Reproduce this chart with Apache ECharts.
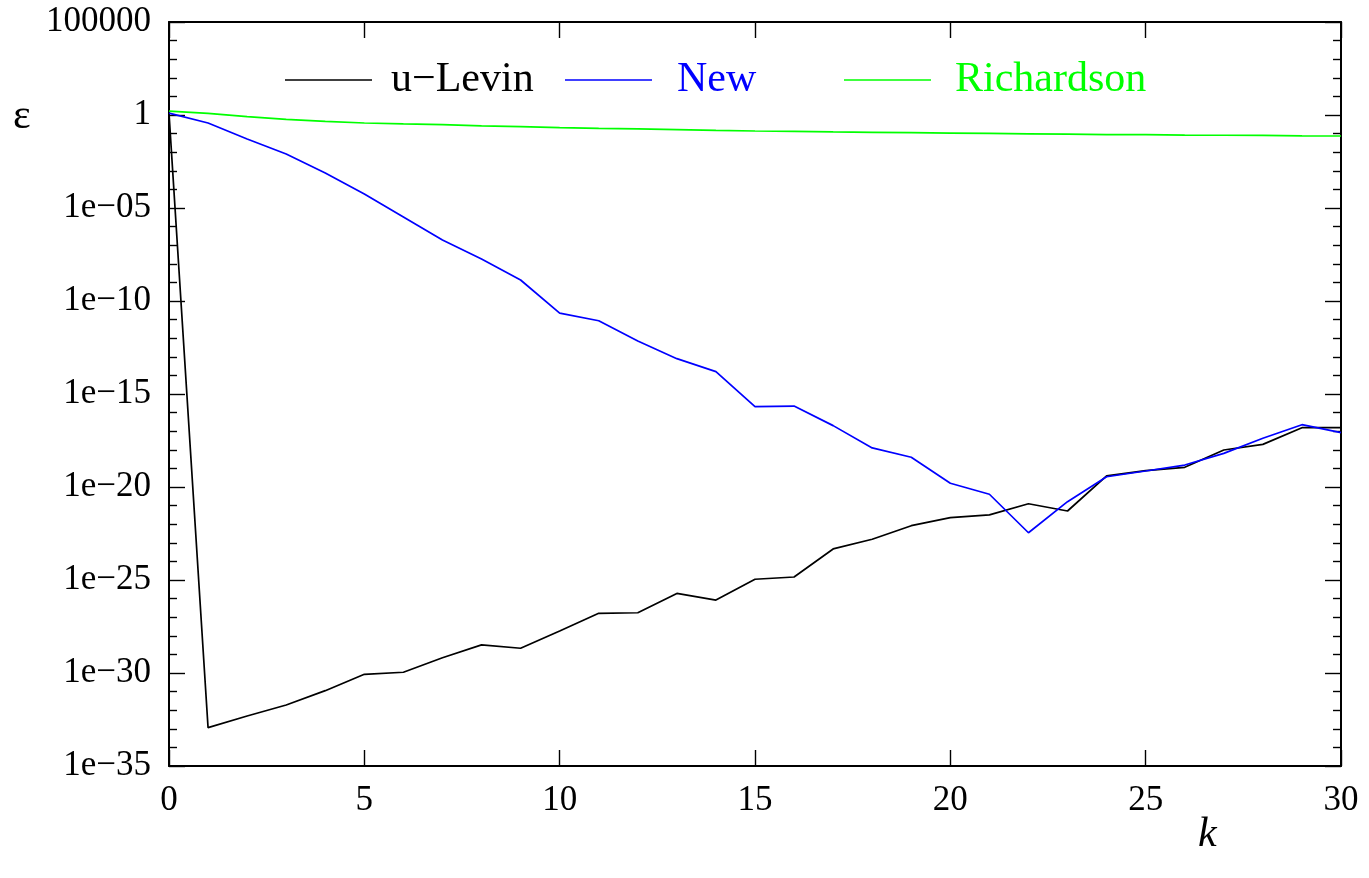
<!DOCTYPE html>
<html>
<head>
<meta charset="utf-8">
<title>u-Levin vs New vs Richardson</title>
<script src="https://cdn.jsdelivr.net/npm/echarts@6/dist/echarts.min.js"></script>
<style>
  html, body { margin: 0; padding: 0; background: #fff; }
  #chart { width: 1369px; height: 878px; }
</style>
</head>
<body>
<div id="chart"></div>
<script>
// k = 0..30
const kValues = [0, 1, 2, 3, 4, 5, 6, 7, 8, 9, 10, 11, 12, 13, 14, 15, 16, 17, 18, 19, 20, 21, 22, 23, 24, 25, 26, 27, 28, 29, 30]

// log10(eps)
const uLevinLog = [0.1, -32.94, -32.31, -31.72, -30.95, -30.07, -29.96, -29.18, -28.49, -28.67, -27.74, -26.79, -26.76, -25.72, -26.08, -24.96, -24.84, -23.33, -22.81, -22.08, -21.65, -21.5, -20.9, -21.29, -19.4, -19.12, -18.94, -18.01, -17.71, -16.81, -16.81]
const newLog = [0.1, -0.43, -1.29, -2.1, -3.12, -4.25, -5.48, -6.72, -7.74, -8.87, -10.65, -11.06, -12.15, -13.1, -13.8, -15.68, -15.65, -16.7, -17.9, -18.4, -19.8, -20.39, -22.46, -20.79, -19.45, -19.14, -18.82, -18.19, -17.38, -16.65, -17.08]
const richardsonLog = [0.21, 0.09, -0.09, -0.23, -0.34, -0.43, -0.48, -0.52, -0.58, -0.63, -0.68, -0.72, -0.75, -0.79, -0.83, -0.86, -0.88, -0.91, -0.93, -0.95, -0.97, -0.99, -1.01, -1.03, -1.05, -1.06, -1.08, -1.09, -1.1, -1.12, -1.13]

// y tick positions (log10) and their labels
const yTicks = [-35, -30, -25, -20, -15, -10, -5, 0, 5]
const yTickLabels = ['1e\u221235', '1e\u221230', '1e\u221225', '1e\u221220', '1e\u221215', '1e\u221210', '1e\u221205', '1', '100000']

const seriesNames = ['u\u2212Levin', 'New', 'Richardson']
const seriesColors = ['#000000', '#0000ff', '#00ff00']

const FONT = "'Liberation Serif', 'Times New Roman', serif"

const chart = echarts.init(document.getElementById('chart'))

const toPairs = arr => arr.map((v, i) => [kValues[i], v])

const xBase = {
  type: 'value',
  min: 0,
  max: 30,
  interval: 5,
  splitLine: { show: false },
  axisLine: { show: true, onZero: false, lineStyle: { color: '#000', width: 2 } },
  axisTick: { show: true, inside: true, length: 16, lineStyle: { color: '#000', width: 1.4 } }
}

const yBase = {
  type: 'value',
  min: -35,
  max: 5,
  interval: 5,
  splitLine: { show: false },
  axisLine: { show: true, onZero: false, lineStyle: { color: '#000', width: 2 } },
  axisTick: { show: true, inside: true, length: 16, lineStyle: { color: '#000', width: 1.4 } },
  minorTick: { show: true, splitNumber: 5, length: 8, lineStyle: { color: '#000', width: 1.4 } },
  minorSplitLine: { show: false }
}

const legendLeft = [280, 560, 839]
const legendTextPad = [14, 20, 19]

chart.setOption({
  backgroundColor: '#fff',
  animation: false,
  grid: { left: 169, right: 28, top: 22, bottom: 112, containLabel: false },
  legend: seriesNames.map((name, i) => ({
    data: [name],
    left: legendLeft[i],
    top: 54,
    icon: 'rect',
    itemWidth: 87,
    itemHeight: 1.6,
    selectedMode: false,
    textStyle: {
      fontFamily: FONT,
      fontSize: 42,
      color: i === 0 ? '#000' : seriesColors[i],
      padding: [0, 0, 0, legendTextPad[i]]
    }
  })),
  xAxis: [
    Object.assign({}, xBase, {
      position: 'bottom',
      axisLabel: { show: true, margin: 17, fontFamily: FONT, fontSize: 35, color: '#000' }
    }),
    Object.assign({}, xBase, {
      position: 'top',
      axisLabel: { show: false }
    })
  ],
  yAxis: [
    Object.assign({}, yBase, {
      position: 'left',
      axisLabel: {
        show: true,
        margin: 18,
        fontFamily: FONT,
        fontSize: 35,
        color: '#000',
        formatter: v => yTickLabels[yTicks.indexOf(v)]
      }
    }),
    Object.assign({}, yBase, {
      position: 'right',
      axisLabel: { show: false }
    })
  ],
  graphic: [
    {
      type: 'text',
      left: 13,
      top: 96,
      style: { text: '\u03b5', font: '42px ' + FONT, fill: '#000' }
    },
    {
      type: 'text',
      left: 1198,
      top: 814,
      style: { text: 'k', font: 'italic 42px ' + FONT, fill: '#000' }
    }
  ],
  series: [
    { name: seriesNames[0], data: toPairs(uLevinLog) },
    { name: seriesNames[1], data: toPairs(newLog) },
    { name: seriesNames[2], data: toPairs(richardsonLog) }
  ].map((s, i) => Object.assign(s, {
    type: 'line',
    xAxisIndex: 0,
    yAxisIndex: 0,
    showSymbol: false,
    symbol: 'none',
    color: seriesColors[i],
    lineStyle: { color: seriesColors[i], width: 1.7 }
  }))
})
</script>
</body>
</html>
